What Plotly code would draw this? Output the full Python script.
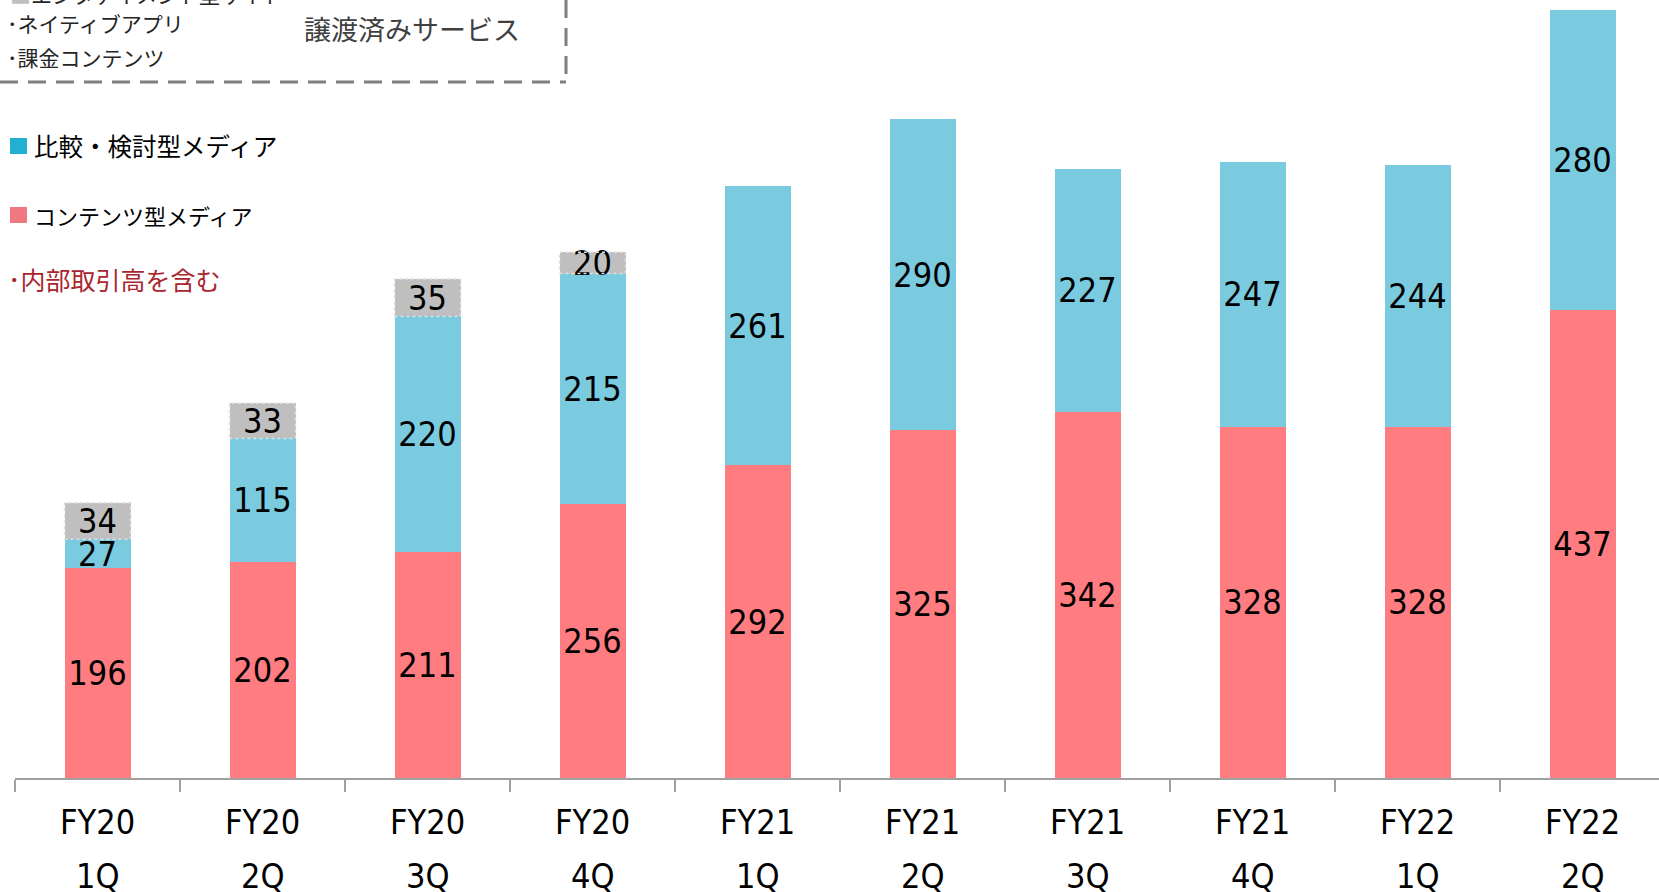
import plotly.graph_objects as go

# Quarterly revenue by segment (stacked)
quarters = ["FY20 1Q", "FY20 2Q", "FY20 3Q", "FY20 4Q", "FY21 1Q",
            "FY21 2Q", "FY21 3Q", "FY21 4Q", "FY22 1Q", "FY22 2Q"]
fy_labels = ["FY20", "FY20", "FY20", "FY20", "FY21", "FY21", "FY21", "FY21", "FY22", "FY22"]
q_labels = ["1Q", "2Q", "3Q", "4Q", "1Q", "2Q", "3Q", "4Q", "1Q", "2Q"]

content_media = [196, 202, 211, 256, 292, 325, 342, 328, 328, 437]
comparison_media = [27, 115, 220, 215, 261, 290, 227, 247, 244, 280]
transferred = [34, 33, 35, 20, None, None, None, None, None, None]

PINK = "#FF7C80"
BLUE = "#7ACBE0"
GRAY = "#BFBFBF"

W, H = 1659, 892
ML, MR, MT, MB = 15, 0, 0, 114
PW, PH = W - ML - MR, H - MT - MB


def px_x(x):
    return (x - ML) / PW


def px_y(y):
    return (H - MB - y) / PH


num_family = "DejaVu Sans Condensed, DejaVu Sans"
num_font = dict(family=num_family, size=34, color="#000000")
jp = "Noto Sans CJK JP"

fig = go.Figure()
for name, vals, color in [("コンテンツ型メディア", content_media, PINK),
                          ("比較・検討型メディア", comparison_media, BLUE),
                          ("譲渡済みサービス", transferred, GRAY)]:
    fig.add_trace(go.Bar(
        x=quarters, y=vals, name=name,
        marker=dict(color=color, line=dict(width=0)),
        text=[("" if v is None else str(v)) for v in vals],
        textposition="inside", insidetextanchor="middle", textangle=0,
        constraintext="none", textfont=num_font,
        hoverinfo="skip", showlegend=False,
    ))

shapes = []
annotations = []

# dashed outline around the transferred-service segments
for i, g in enumerate(transferred):
    if g is None:
        continue
    base = content_media[i] + comparison_media[i]
    shapes.append(dict(type="rect", xref="x", yref="y",
                       x0=i - 0.2, x1=i + 0.2, y0=base, y1=base + g,
                       line=dict(color="#E0E0E0", width=1.5, dash="dot"),
                       fillcolor="rgba(0,0,0,0)", layer="above"))

# two-line category labels under the axis
for i in range(len(quarters)):
    for txt, yy in ((fy_labels[i], 822), (q_labels[i], 876)):
        annotations.append(dict(x=i, y=px_y(yy), xref="x", yref="paper",
                                text=txt, showarrow=False,
                                font=dict(family=num_family, size=34, color="#000"),
                                xanchor="center", yanchor="middle"))

# dashed box for transferred services
box_dash = "18px,10px"
shapes.append(dict(type="line", xref="paper", yref="paper",
                   x0=px_x(0), x1=px_x(566), y0=px_y(82), y1=px_y(82),
                   line=dict(color="#7F7F7F", width=3, dash=box_dash)))
shapes.append(dict(type="line", xref="paper", yref="paper",
                   x0=px_x(566), x1=px_x(566), y0=px_y(0), y1=px_y(82),
                   line=dict(color="#7F7F7F", width=3, dash=box_dash)))

box_font = dict(family=jp, size=21, color="#262626")
box_texts = [
    dict(x=px_x(8), y=px_y(-6), text="<span style='color:#BFBFBF'>■</span>エンタテイメント型サイト",
         font=box_font),
    dict(x=px_x(5), y=px_y(23), text="･ネイティブアプリ", font=box_font),
    dict(x=px_x(5), y=px_y(57), text="･課金コンテンツ", font=box_font),
    dict(x=px_x(302), y=px_y(28), text="譲渡済みサービス",
         font=dict(family=jp, size=27, color="#404040")),
]
for a in box_texts:
    a.update(xref="paper", yref="paper", showarrow=False, xanchor="left", yanchor="middle")
annotations += box_texts

# legend squares and labels
legend_items = [("比較・検討型メディア", "#22AFD0", 146, 24.5),
                ("コンテンツ型メディア", "#F07880", 215, 22)]
for label, color, cy, size in legend_items:
    shapes.append(dict(type="rect", xref="paper", yref="paper",
                       x0=px_x(10), x1=px_x(27), y0=px_y(cy - 8), y1=px_y(cy + 8),
                       fillcolor=color, line=dict(width=0)))
    annotations.append(dict(x=px_x(32), y=px_y(cy), xref="paper", yref="paper",
                            text=label, showarrow=False, xanchor="left", yanchor="middle",
                            font=dict(family=jp, size=size, color="#000")))
annotations.append(dict(x=px_x(6), y=px_y(279), xref="paper", yref="paper",
                        text="･内部取引高を含む", showarrow=False, xanchor="left", yanchor="middle",
                        font=dict(family=jp, size=25, color="#A9262F")))

fig.update_layout(
    width=W, height=H,
    margin=dict(l=ML, r=MR, t=MT, b=MB, pad=0),
    barmode="stack", bargap=0.6,
    plot_bgcolor="white", paper_bgcolor="white",
    showlegend=False,
    shapes=shapes, annotations=annotations,
    xaxis=dict(type="category", range=[-0.5, -0.5 + PW / 165.0],
               tickson="boundaries", ticks="outside", ticklen=12,
               tickcolor="#A0A0A0", tickwidth=2,
               showline=True, linecolor="#A0A0A0", linewidth=2,
               showticklabels=False, showgrid=False, zeroline=False),
    yaxis=dict(range=[0, PH / 1.071], visible=False, showgrid=False),
)

fig.write_html("out.html")
